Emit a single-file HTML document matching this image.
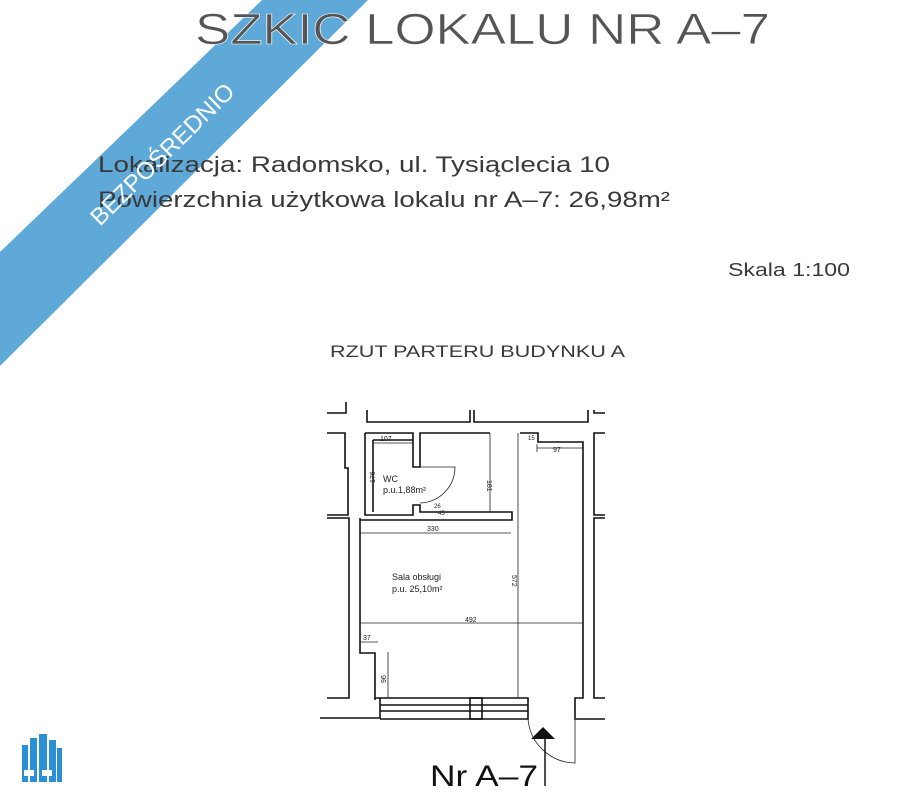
<!DOCTYPE html>
<html><head><meta charset="utf-8"><style>
html,body{margin:0;padding:0;background:#fff}
svg{display:block}
text{font-family:"Liberation Sans",sans-serif}
</style></head><body>
<svg width="923" height="800" viewBox="0 0 923 800" xmlns="http://www.w3.org/2000/svg">
<rect width="923" height="800" fill="#fff"/>
<!-- banner -->
<polygon points="262,0 368,0 0,366 0,252" fill="#5fa9d8"/>
<g fill="#3a3a3a">
<text x="195" y="44" font-size="44" textLength="575" lengthAdjust="spacingAndGlyphs" fill="#555" stroke="#fff" stroke-width="0.6">SZKIC LOKALU NR A–7</text>
<text x="98" y="172" font-size="22" textLength="512" lengthAdjust="spacingAndGlyphs">Lokalizacja: Radomsko, ul. Tysiąclecia 10</text>
<text x="98" y="207" font-size="22" textLength="572" lengthAdjust="spacingAndGlyphs">Powierzchnia użytkowa lokalu nr A–7: 26,98m²</text>
<text x="728" y="276" font-size="18" textLength="122" lengthAdjust="spacingAndGlyphs">Skala 1:100</text>
<text x="330" y="357" font-size="17" textLength="295" lengthAdjust="spacingAndGlyphs">RZUT PARTERU BUDYNKU A</text>
</g>
<text x="0" y="0" font-size="24" fill="#fff" text-anchor="middle" transform="translate(168,160) rotate(-44.5)">BEZPOŚREDNIO</text>
<g fill="none" stroke="#111" stroke-width="1.6">
<path d="M327,413 H346 V402"/>
<path d="M367,410 V422 H470 V410 M474,410 V422 H588 V410"/>
<path d="M594,410 V413 H605"/>
<path d="M327,433 H345 V468 H348 V515 H327"/>
<path d="M327,518 H349 V698 H327"/>
<path d="M320,718 H380 V698"/>
<path d="M605,433 H594 V515 H605"/>
<path d="M605,518 H594 V698 H605"/>
<path d="M605,719 H575 V698 H583 V442 H538 V433 H520"/>
<path d="M365,433 H413 V467 H420 V433 H490"/>
<path d="M373,440 V512 M365,433 V515 H413 V505 H420 V512 H512 V520 H360"/>
<path d="M373,440 H413"/>
<path d="M360,518 V653 H375 V700"/>
<path d="M375,698 H528 V719 H380 M380,705 H528 M380,711 H528"/>
<rect x="470" y="698" width="12" height="21"/>
</g>
<g fill="none" stroke="#222" stroke-width="0.8">
<line x1="518" y1="433" x2="518" y2="698"/>
<line x1="490" y1="433" x2="490" y2="512"/>
<line x1="360" y1="533" x2="511" y2="533"/>
<line x1="360" y1="623" x2="583" y2="623"/>
<line x1="537" y1="448" x2="583" y2="448"/>
<line x1="537" y1="444" x2="537" y2="452"/>
<line x1="360" y1="642" x2="378" y2="642"/>
<line x1="388" y1="652" x2="388" y2="698"/>
<line x1="373" y1="443" x2="413" y2="443"/>
<path d="M420,467 H455 A36,36 0 0,1 420,503"/>
<path d="M528,719 A48,48 0 0,0 575,763 V719"/>
<line x1="545" y1="738" x2="545" y2="786" stroke-width="1.6"/>
</g>
<polygon points="543,727 531,739 555,739" fill="#111"/>
<g fill="#222" font-size="7">
<text x="380" y="441">107</text>
<text x="375" y="483" transform="rotate(-90 375 483)">176</text>
<text x="487" y="480" transform="rotate(90 487 480)">181</text>
<text x="528" y="440" font-size="6">15</text>
<text x="553" y="452">97</text>
<text x="427" y="531">330</text>
<text x="512" y="575" transform="rotate(90 512 575)">572</text>
<text x="465" y="622">492</text>
<text x="363" y="640">37</text>
<text x="386" y="683" transform="rotate(-90 386 683)">96</text>
<text x="434" y="508" font-size="6">26</text>
<text x="438" y="515" font-size="6">45</text>
<text x="383" y="482" font-size="9">WC</text>
<text x="383" y="493" font-size="9">p.u.1,88m²</text>
<text x="392" y="580" font-size="9">Sala obsługi</text>
<text x="392" y="592" font-size="9">p.u. 25,10m²</text>
</g>
<text x="430" y="786" font-size="30" fill="#111" textLength="108" lengthAdjust="spacingAndGlyphs">Nr A–7</text>
<g fill="#2b8fd6">
<rect x="22" y="745" width="6" height="37"/>
<rect x="30" y="738" width="7" height="44"/>
<rect x="39" y="734" width="8" height="48"/>
<rect x="49" y="740" width="7" height="42"/>
<rect x="57" y="748" width="5" height="34"/>
</g>
<g fill="#fff">
<rect x="24" y="770" width="10" height="6"/>
<rect x="42" y="770" width="10" height="6"/>
</g>
</svg>
</body></html>
